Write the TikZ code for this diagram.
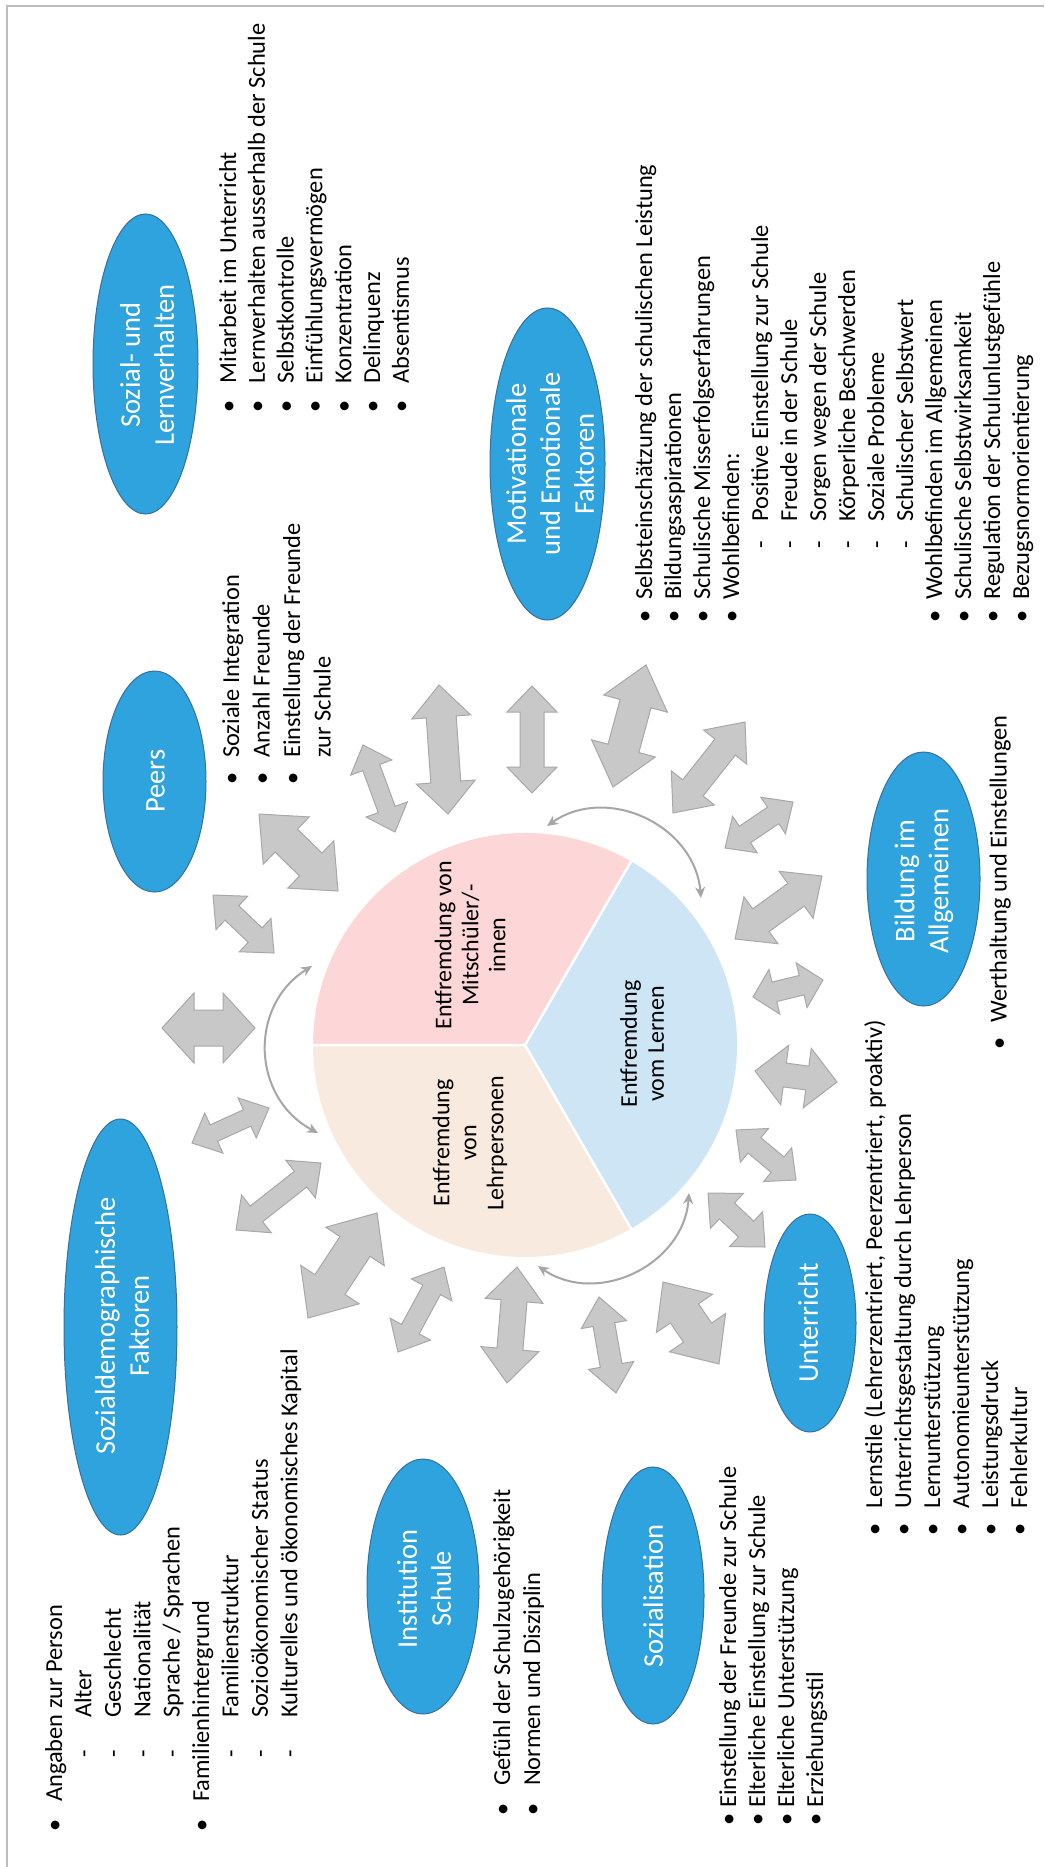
\documentclass[tikz,border=0pt]{standalone}
\usepackage{fontspec}
\setmainfont{Carlito}
\usetikzlibrary{shapes.geometric,arrows.meta}
\definecolor{ellblue}{HTML}{2FA3DD}
\definecolor{ellline}{HTML}{3470A0}
\definecolor{arrfill}{HTML}{C8C8C8}
\definecolor{arrline}{HTML}{A8A8A8}
\definecolor{arcline}{HTML}{A6A6A6}
\definecolor{piepink}{HTML}{FDD7D8}
\definecolor{piepeach}{HTML}{F9EADF}
\definecolor{pieblue}{HTML}{CDE5F4}
\definecolor{framecol}{HTML}{BDBDBD}
\newcommand\lbul[2]{\makebox[#1pt][l]{•}#2}
\newcommand\ldash[3]{\hspace*{#1pt}\makebox[#2pt][l]{-}#3}
\newcommand\dblarr[7]{%
 \pgfmathsetmacro\baDx{#3-#1}%
 \pgfmathsetmacro\baDy{#2-#4}%
 \pgfmathsetmacro\baAng{atan2(\baDy,\baDx)}%
 \pgfmathsetmacro\baLen{veclen(\baDx,\baDy)}%
 \pgfmathsetmacro\baHW{#5/2}%
 \pgfmathsetmacro\baSW{#6/2}%
 \pgfmathsetmacro\baE{\baLen-#7}%
 \begin{scope}[shift={(#1,#2)},rotate=\baAng]
 \draw[blockarrow] (0,0) -- (#7,\baHW) -- (#7,\baSW) -- (\baE,\baSW) -- (\baE,\baHW) -- (\baLen,0) -- (\baE,-\baHW) -- (\baE,-\baSW) -- (#7,-\baSW) -- (#7,-\baHW) -- cycle;
 \end{scope}}
\begin{document}
\begin{tikzpicture}[x=1pt,y=-1pt,
  ell/.style={ellipse, fill=ellblue, draw=ellline, line width=1, inner sep=0},
  elltext/.style={rotate=90, text=white, align=center, font=\fontsize{28.5}{34}\selectfont, inner sep=0},
  pietext/.style={rotate=90, align=center, font=\fontsize{24}{27}\selectfont, inner sep=0},
  lst/.style={rotate=90, anchor=north west, align=left, inner sep=0},
  blockarrow/.style={draw=arrline, fill=arrfill, line width=1},
  arcarr/.style={draw=arcline, line width=2, {Stealth[length=11pt,width=10pt]}-{Stealth[length=11pt,width=10pt]}}]

\useasboundingbox (0,0) rectangle (1044,1867);
\fill[white] (0,0) rectangle (1044,1867);
\draw[framecol, line width=2] (1044,6) -- (7,6) -- (7,1867);

% pie
\begin{scope}[shift={(525,1045)}, y=1pt]
 \fill[piepink] (0,0) -- (60:212) arc[start angle=60, end angle=180, radius=212] -- cycle;
 \fill[piepeach] (0,0) -- (180:212) arc[start angle=180, end angle=300, radius=212] -- cycle;
 \fill[pieblue] (0,0) -- (-60:212) arc[start angle=-60, end angle=60, radius=212] -- cycle;
 \draw[white, line width=2.5] (0,0) -- (60:212) (0,0) -- (180:212) (0,0) -- (300:212);
\end{scope}
\node[pietext] (tpink) at (470,945) {Entfremdung von\\Mitschüler/-\\innen};
\node[pietext] (tpeach) at (470,1143) {Entfremdung\\von\\Lehrpersonen};
\node[pietext] (tblue) at (642,1044) {Entfremdung\\vom Lernen};

% curved arrows
\coordinate (c1a) at (312,966); \coordinate (c1b) at (318,1133);
\draw[arcarr] (c1a) to[bend right=60, looseness=1.15] (c1b);
\coordinate (c2a) at (547,826); \coordinate (c2b) at (701,898);
\draw[arcarr] (c2a) to[bend left=60, looseness=1.1] (c2b);
\coordinate (c3a) at (689,1193); \coordinate (c3b) at (538,1266);
\draw[arcarr] (c3a) to[bend left=60, looseness=1.1] (c3b);

% block arrows
\dblarr{439}{685}{448}{814}{59}{30}{32}
\dblarr{532}{686}{532}{793}{50}{24}{26}
\dblarr{646}{665}{613}{787}{66}{32}{40}
\dblarr{745}{722}{673}{813}{55}{26}{32}
\dblarr{793}{802}{725}{848}{44}{20}{24}
\dblarr{822}{876}{735}{939}{58}{28}{32}
\dblarr{823}{980}{753}{997}{46}{20}{22}
\dblarr{837}{1082}{755}{1071}{60}{24}{30}
\dblarr{796}{1180}{736}{1130}{44}{20}{24}
\dblarr{765}{1247}{708}{1193}{48}{22}{26}
\dblarr{663}{1282}{719}{1364}{68}{34}{38}
\dblarr{599}{1297}{616}{1393}{46}{22}{28}
\dblarr{517}{1267}{507}{1383}{58}{26}{34}
\dblarr{444}{1267}{398}{1352}{46}{20}{26}
\dblarr{377}{1213}{308}{1318}{70}{36}{40}
\dblarr{321}{1163}{236}{1230}{48}{20}{26}
\dblarr{269}{1108}{192}{1143}{44}{18}{24}
\dblarr{255}{1028}{162}{1028}{70}{36}{32}
\dblarr{274}{953}{213}{895}{46}{20}{26}
\dblarr{338}{891}{259}{814}{66}{32}{38}
\dblarr{395}{832}{363}{745}{44}{18}{24}

% ellipses
\node[ell, minimum width=105, minimum height=300] (esoz) at (145.5,364) {};
\node[elltext] (tsoz) at (147,365) {Sozial- und\\Lernverhalten};
\node[ell, minimum width=115, minimum height=312] (emot) at (547.5,464) {};
\node[elltext] (tmot) at (550,464) {Motivationale\\und Emotionale\\Faktoren};
\node[ell, minimum width=103, minimum height=221] (epeer) at (154.5,781.5) {};
\node[elltext] (tpeer) at (155.5,781) {Peers};
\node[ell, minimum width=113, minimum height=254] (ebild) at (923.5,879) {};
\node[elltext] (tbild) at (924,881) {Bildung im\\Allgemeinen};
\node[ell, minimum width=113, minimum height=416] (edemo) at (120.5,1327) {};
\node[elltext] (tdemo) at (122,1326) {Sozialdemographische\\Faktoren};
\node[ell, minimum width=92, minimum height=218] (eunt) at (810,1323) {};
\node[elltext] (tunt) at (808,1323) {Unterricht};
\node[ell, minimum width=112, minimum height=255] (einst) at (423,1586.5) {};
\node[elltext] (tinst) at (424,1589) {Institution\\Schule};
\node[ell, minimum width=102, minimum height=257] (esozi) at (653,1595.5) {};
\node[elltext] (tsozi) at (653,1596) {Sozialisation};

% lists
\node[lst, font=\fontsize{24.4}{28.8}\selectfont] (lsoz) at (215.7,412.3) {\strut\lbul{28.8}{Mitarbeit im Unterricht}\\
\lbul{28.8}{Lernverhalten ausserhalb der Schule}\\
\lbul{28.8}{Selbstkontrolle}\\
\lbul{28.8}{Einfühlungsvermögen}\\
\lbul{28.8}{Konzentration}\\
\lbul{28.8}{Delinquenz}\\
\lbul{28.8}{Absentismus}};

\node[lst, font=\fontsize{24.4}{29}\selectfont] (lmot) at (631.6,622.3) {\strut\lbul{22.3}{Selbsteinschätzung der schulischen Leistung}\\
\lbul{22.3}{Bildungsaspirationen}\\
\lbul{22.3}{Schulische Misserfolgserfahrungen}\\
\lbul{22.3}{Wohlbefinden:}\\
\ldash{73.6}{26.7}{Positive Einstellung zur Schule}\\
\ldash{73.6}{26.7}{Freude in der Schule}\\
\ldash{73.6}{26.7}{Sorgen wegen der Schule}\\
\ldash{73.6}{26.7}{Körperliche Beschwerden}\\
\ldash{73.6}{26.7}{Soziale Probleme}\\
\ldash{73.6}{26.7}{Schulischer Selbstwert}\\
\lbul{22.3}{Wohlbefinden im Allgemeinen}\\
\lbul{22.3}{Schulische Selbstwirksamkeit}\\
\lbul{22.3}{Regulation der Schulunlustgefühle}\\
\lbul{22.3}{Bezugsnormorientierung}};

\node[lst, font=\fontsize{24.4}{30.5}\selectfont] (lpeer) at (217.6,784.8) {\strut\lbul{26.8}{Soziale Integration}\\
\lbul{26.8}{Anzahl Freunde}\\
\lbul{26.8}{Einstellung der Freunde}\\
\hspace*{26.8pt}zur Schule};

\node[lst, font=\fontsize{24.4}{29.4}\selectfont] (ldemo) at (41.3,1831.3) {\strut\lbul{29.3}{Angaben zur Person}\\
\ldash{74}{39.3}{Alter}\\
\ldash{74}{39.3}{Geschlecht}\\
\ldash{74}{39.3}{Nationalität}\\
\ldash{74}{39.3}{Sprache / Sprachen}\\
\lbul{29.3}{Familienhintergrund}\\
\ldash{74}{39.3}{Familienstruktur}\\
\ldash{74}{39.3}{Sozioökonomischer Status}\\
\ldash{74}{39.3}{Kulturelles und ökonomisches Kapital}};

\node[lst, font=\fontsize{24.4}{30}\selectfont] (linst) at (488.9,1815.3) {\strut\lbul{29.3}{Gefühl der Schulzugehörigkeit}\\
\lbul{29.3}{Normen und Disziplin}};

\node[lst, font=\fontsize{24.4}{29}\selectfont] (lsozi) at (715.6,1825.3) {\strut\lbul{17.3}{Einstellung der Freunde zur Schule}\\
\lbul{17.3}{Elterliche Einstellung zur Schule}\\
\lbul{17.3}{Elterliche Unterstützung}\\
\lbul{17.3}{Erziehungsstil}};

\node[lst, font=\fontsize{24.4}{29}\selectfont] (lunt) at (861.6,1535.9) {\strut\lbul{27.5}{Lernstile (Lehrerzentriert, Peerzentriert, proaktiv)}\\
\lbul{27.5}{Unterrichtsgestaltung durch Lehrperson}\\
\lbul{27.5}{Lernunterstützung}\\
\lbul{27.5}{Autonomieunterstützung}\\
\lbul{27.5}{Leistungsdruck}\\
\lbul{27.5}{Fehlerkultur}};

\node[lst, font=\fontsize{24.4}{29}\selectfont] (lbild) at (986.1,1049.3) {\strut\lbul{26.3}{Werthaltung und Einstellungen}};
\end{tikzpicture}
\end{document}
